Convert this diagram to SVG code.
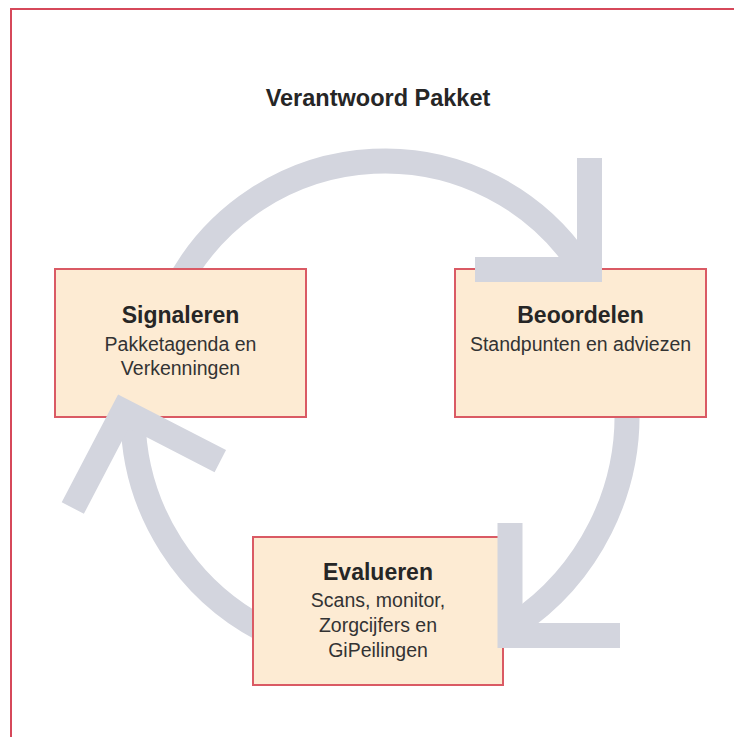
<svg xmlns="http://www.w3.org/2000/svg" width="734" height="737" viewBox="0 0 734 737">
  <style>
    .frame { stroke: #D6485A; stroke-width: 2; fill: none; }
    .arc { fill: none; stroke: #D3D5DE; stroke-width: 25; stroke-linecap: butt; }
    .head { fill: none; stroke: #D3D5DE; stroke-width: 25; stroke-linecap: butt; stroke-linejoin: miter; stroke-miterlimit: 10; }
    .box { fill: #FDEBD3; stroke: #DA5A64; stroke-width: 2; }
    .title { font-family: "Liberation Sans", Arial, sans-serif; font-weight: bold; font-size: 23.5px; fill: #262626; text-anchor: middle; }
    .name { font-family: "Liberation Sans", Arial, sans-serif; font-weight: bold; font-size: 23px; fill: #262626; text-anchor: middle; }
    .sub { font-family: "Liberation Sans", Arial, sans-serif; font-size: 19.5px; fill: #333333; text-anchor: middle; }
  </style>
  <rect x="0" y="0" width="734" height="737" fill="#FFFFFF"/>
  <path class="frame" d="M 11 737 L 11 9 L 734 9"/>
  <text class="title" x="378" y="106">Verantwoord Pakket</text>

  <g id="connectors">
    <path class="arc" d="M 175.3 290 A 235 235 0 0 1 583 269.4"/>
    <path class="arc" d="M 626.6 400 A 252 252 0 0 1 514 625.2"/>
    <path class="arc" d="M 270 633 A 242 242 0 0 1 133 418"/>
  </g>

  <g id="signaleren">
    <rect class="box" x="55" y="269" width="251" height="148"/>
    <text class="name" x="180.5" y="323">Signaleren</text>
    <text class="sub" x="180.5" y="351">Pakketagenda en</text>
    <text class="sub" x="180.5" y="375">Verkenningen</text>
  </g>

  <g id="beoordelen">
    <rect class="box" x="455" y="269" width="251" height="148"/>
    <text class="name" x="580.5" y="323">Beoordelen</text>
    <text class="sub" x="580.5" y="351">Standpunten en adviezen</text>
  </g>

  <g id="evalueren">
    <rect class="box" x="253" y="537" width="250" height="148"/>
    <text class="name" x="378" y="580">Evalueren</text>
    <text class="sub" x="378" y="607">Scans, monitor,</text>
    <text class="sub" x="378" y="632">Zorgcijfers en</text>
    <text class="sub" x="378" y="657">GiPeilingen</text>
  </g>

  <g id="arrowheads">
    <polyline class="head" points="589.5,158 589.5,269.5 475,269.5"/>
    <polyline class="head" points="510,523 510,635.5 620,635.5"/>
    <polyline class="head" points="72.8,508 123.4,411.2 220.3,461.1"/>
  </g>
</svg>
